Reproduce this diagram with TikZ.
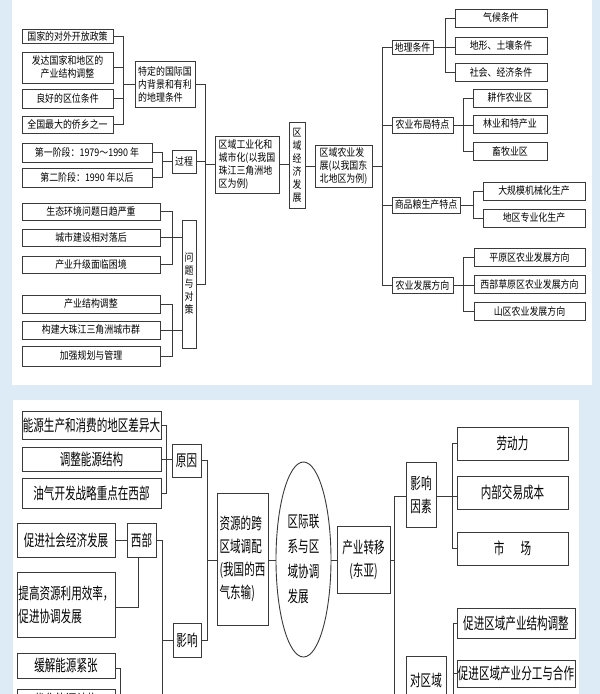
\documentclass[tikz,border=0pt]{standalone}
\usepackage{fontspec}
\usetikzlibrary{shapes.geometric}
\newfontfamily\cjs[FakeStretch=0.85]{Noto Sans CJK SC}
\newfontfamily\cjb[FakeStretch=0.66]{Noto Sans CJK SC}
\definecolor{bgblue}{HTML}{DCEBF5}
\definecolor{ln}{HTML}{3A3A3A}
\tikzset{
  sbox/.style={draw=ln,line width=0.9pt,inner sep=0pt,align=center,font=\cjs\fontsize{10.5}{13}\selectfont,text=black},
  bbox/.style={draw=ln,line width=0.9pt,inner sep=0pt,align=center,font=\cjb\fontsize{16}{23}\selectfont,text=black},
  sboxl/.style={sbox,align=left},
  bboxl/.style={bbox,align=left},
  conn/.style={draw=ln,line width=0.7pt}
}
\newcommand{\bx}[7]{\node[#1,minimum width={#5-#3},minimum height={#6-#4}] (#2) at ({(#3+#5)/2},{(#4+#6)/2}) {#7};}
\begin{document}
\begin{tikzpicture}[x=1pt,y=-1pt]
\fill[bgblue] (0,0) rectangle (600,694);
\clip (0,0) rectangle (600,694);
\fill[white] (12,0) rectangle (592,385);
\fill[white] (13,400) rectangle (579,694);
% ---------- TOP LEFT ----------
\bx{sbox}{a1}{22}{29}{113}{43}{国家的对外开放政策}
\bx{sbox}{a2}{22}{52}{113}{83}{发达国家和地区的\\产业结构调整}
\bx{sbox}{a3}{22}{89}{113}{108}{良好的区位条件}
\bx{sbox}{a4}{22}{116}{113}{133}{全国最大的侨乡之一}
\bx{sboxl}{bg}{135}{61}{195}{107}{特定的国际国\\内背景和有利\\的地理条件}
\bx{sbox}{p1}{22}{143}{152}{162}{第一阶段：1979～1990 年}
\bx{sbox}{p2}{22}{168}{152}{187}{第二阶段：1990 年以后}
\bx{sbox}{gc}{172}{150}{196}{173}{过程}
\bx{sboxl}{ind}{215}{136}{279}{193}{区域工业化和\\城市化(以我国\\珠江三角洲地\\区为例)}
\bx{sbox}{eco}{289}{122}{305}{208}{区\\域\\经\\济\\发\\展}
\bx{sbox}{q1}{22}{203}{160}{220}{生态环境问题日趋严重}
\bx{sbox}{q2}{22}{229}{160}{246}{城市建设相对落后}
\bx{sbox}{q3}{22}{256}{160}{273}{产业升级面临困境}
\bx{sbox}{wt}{182}{220}{196}{348}{问\\题\\与\\对\\策}
\bx{sbox}{c1}{22}{295}{160}{313}{产业结构调整}
\bx{sbox}{c2}{22}{321}{160}{339}{构建大珠江三角洲城市群}
\bx{sbox}{c3}{22}{346}{160}{366}{加强规划与管理}
\coordinate (g1) at (123,0);
\draw[conn] (a1.east) -- (a1.east -| g1) -- (a4.east -| g1) -- (a4.east);
\draw[conn] (a2.east) -- (a2.east -| g1);
\draw[conn] (a3.east) -- (a3.east -| g1);
\draw[conn] (g1 |- bg.west) -- (bg.west);
\coordinate (g2) at (162,0);
\draw[conn] (p1.east) -- (p1.east -| g2) -- (p2.east -| g2) -- (p2.east);
\draw[conn] (g2 |- gc.west) -- (gc.west);
\coordinate (g3) at (172,0);
\draw[conn] (q1.east) -- (q1.east -| g3) -- (q3.east -| g3) -- (q3.east);
\draw[conn] (q2.east) -- (wt.west |- q2.east);
\draw[conn] (c1.east) -- (c1.east -| g3) -- (c3.east -| g3) -- (c3.east);
\draw[conn] (c2.east) -- (wt.west |- c2.east);
\coordinate (g4) at (205,0);
\draw[conn] (bg.east) -- (bg.east -| g4) -- (g4 |- 0,284) -- (wt.east |- 0,284);
\draw[conn] (gc.east) -- (gc.east -| g4);
\draw[conn] (g4 |- ind.west) -- (ind.west);
\draw[conn] (ind.east) -- (eco.west |- ind.east);
% ---------- TOP RIGHT ----------
\bx{sboxl}{agr}{315}{145}{372}{187}{区域农业发\\展(以我国东\\北地区为例)}
\draw[conn] (eco.east |- agr.west) -- (agr.west);
\bx{sbox}{r1}{392}{40}{433}{54}{地理条件}
\bx{sbox}{r2}{392}{117}{453}{133}{农业布局特点}
\bx{sbox}{r3}{392}{197}{460}{213}{商品粮生产特点}
\bx{sbox}{r4}{392}{277}{453}{293}{农业发展方向}
\coordinate (g5) at (382,0);
\draw[conn] (r1.west) -- (r1.west -| g5) -- (r4.west -| g5) -- (r4.west);
\draw[conn] (r2.west) -- (r2.west -| g5);
\draw[conn] (r3.west) -- (r3.west -| g5);
\draw[conn] (agr.east) -- (agr.east -| g5);
\bx{sbox}{s1}{455}{9}{547}{27}{气候条件}
\bx{sbox}{s2}{455}{37}{547}{54}{地形、土壤条件}
\bx{sbox}{s3}{455}{63}{547}{81}{社会、经济条件}
\coordinate (h1) at (445,0);
\draw[conn] (s1.west) -- (s1.west -| h1) -- (s3.west -| h1) -- (s3.west);
\draw[conn] (r1.east) -- (s2.west |- r1.east);
\bx{sbox}{t1}{473}{89}{547}{107}{耕作农业区}
\bx{sbox}{t2}{473}{115}{547}{133}{林业和特产业}
\bx{sbox}{t3}{473}{142}{547}{160}{畜牧业区}
\coordinate (h2) at (463,0);
\draw[conn] (t1.west) -- (t1.west -| h2) -- (t3.west -| h2) -- (t3.west);
\draw[conn] (r2.east) -- (t2.west |- r2.east);
\bx{sbox}{u1}{483}{182}{585}{200}{大规模机械化生产}
\bx{sbox}{u2}{483}{209}{585}{227}{地区专业化生产}
\coordinate (h3) at (473,0);
\draw[conn] (u1.west) -- (u1.west -| h3) -- (u2.west -| h3) -- (u2.west);
\draw[conn] (r3.east) -- (r3.east -| h3);
\bx{sbox}{v1}{474}{248}{585}{266}{平原区农业发展方向}
\bx{sbox}{v2}{474}{275}{585}{293}{西部草原区农业发展方向}
\bx{sbox}{v3}{474}{302}{585}{320}{山区农业发展方向}
\draw[conn] (v1.west) -- (v1.west -| h2) -- (v3.west -| h2) -- (v3.west);
\draw[conn] (r4.east) -- (v2.west |- r4.east);
% ---------- BOTTOM ----------
\bx{bbox}{e1}{22}{411}{161}{439}{能源生产和消费的地区差异大}
\bx{bbox}{e2}{22}{447}{161}{471}{调整能源结构}
\bx{bbox}{e3}{22}{478}{161}{508}{油气开发战略重点在西部}
\bx{bbox}{yy}{172}{444}{201}{477}{原因}
\coordinate (k1) at (166,0);
\draw[conn] (e1.east) -- (e1.east -| k1) -- (e3.east -| k1) -- (e3.east);
\draw[conn] (e2.east) -- (yy.west |- e2.east);
\bx{bbox}{w1}{17}{523}{115}{557}{促进社会经济发展}
\bx{bbox}{xb}{127}{523}{156}{557}{西部}
\bx{bboxl}{w2}{17}{572}{115}{637}{提高资源利用效率，\\促进协调发展}
\bx{bbox}{yx}{173}{623}{201}{657}{影响}
\bx{bbox}{w3}{17}{653}{115}{678}{缓解能源紧张}
\bx{bbox}{w4}{17}{689}{115}{712}{优化能源结构}
\draw[conn] (w1.east) -- (xb.west |- w1.east);
\draw[conn] (w2.east |- 0,607) -| (xb.south -| 138,0);
\draw[conn] (xb.east) -- (162,540) -- (162,700);
\draw[conn] (162,640) -- (yx.west |- 0,640);
\draw[conn] (w3.east |- 0,668) -- (120,668) -- (120,700);
\bx{bboxl}{zy}{217}{493}{268}{625}{资源的跨\\区域调配\\(我国的西\\气东输)}
\coordinate (k2) at (207,0);
\draw[conn] (yy.east) -- (yy.east -| k2) -- (k2 |- yx.east) -- (yx.east);
\draw[conn] (k2 |- 0,560) -- (zy.west |- 0,560);
\node[draw=ln,line width=0.9pt,ellipse,minimum width=55,minimum height=195,inner sep=0pt,align=left,font=\cjb\fontsize{16}{25}\selectfont] (el) at (303.5,559.5) {区际联\\系与区\\域协调\\发展};
\draw[conn] (zy.east |- 0,560) -- (el.west |- 0,560);
\bx{bbox}{cy}{337}{526}{390}{593}{产业转移\\(东亚)}
\draw[conn] (el.east |- 0,560) -- (cy.west |- 0,560);
\bx{bbox}{ys}{406}{462}{436}{527}{影响\\因素}
\bx{bbox}{dq}{406}{656}{446}{704}{对区域}
\coordinate (k3) at (394,0);
\draw[conn] (cy.east |- 0,560) -- (k3 |- 0,560);
\draw[conn] (ys.west |- 0,496) -- (k3 |- 0,496) -- (k3 |- 0,700);
\bx{bbox}{m1}{457}{427}{568}{460}{劳动力}
\bx{bbox}{m2}{457}{476}{568}{509}{内部交易成本}
\bx{bbox}{m3}{457}{532}{568}{565}{市\quad 场}
\coordinate (k4) at (452,0);
\draw[conn] (m1.west) -- (m1.west -| k4) -- (m3.west -| k4) -- (m3.west);
\draw[conn] (ys.east |- 0,496) -- (m2.west |- 0,496);
\bx{bbox}{n1}{457}{608}{575}{638}{促进区域产业结构调整}
\bx{bbox}{n2}{457}{660}{575}{687}{促进区域产业分工与合作}
\coordinate (k5) at (453,0);
\draw[conn] (n1.west) -- (n1.west -| k5) -- (k5 |- 0,700);
\draw[conn] (n2.west) -- (n2.west -| k5);
\end{tikzpicture}
\end{document}
